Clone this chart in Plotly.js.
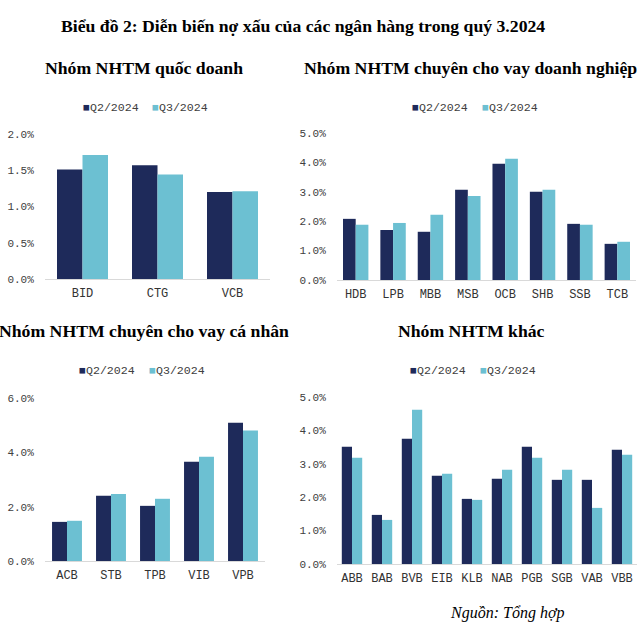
<!DOCTYPE html>
<html>
<head>
<meta charset="utf-8">
<script src="https://cdn.plot.ly/plotly-3.0.1.min.js"></script>
<style>html,body{margin:0;padding:0;background:#fff;}#chart{width:639px;height:630px;}</style>
</head>
<body>
<div id="chart"></div>
<script>
// ---- Data ----
const seriesNames = ['Q2/2024', 'Q3/2024'];

const stateBanks = ['BID', 'CTG', 'VCB'];
const stateQ2 = [1.51, 1.57, 1.20];
const stateQ3 = [1.71, 1.44, 1.21];

const corpBanks = ['HDB', 'LPB', 'MBB', 'MSB', 'OCB', 'SHB', 'SSB', 'TCB'];
const corpQ2 = [2.08, 1.70, 1.64, 3.07, 3.95, 3.00, 1.91, 1.23];
const corpQ3 = [1.88, 1.94, 2.22, 2.86, 4.12, 3.07, 1.88, 1.30];

const retailBanks = ['ACB', 'STB', 'TPB', 'VIB', 'VPB'];
const retailQ2 = [1.44, 2.40, 2.03, 3.65, 5.09];
const retailQ3 = [1.48, 2.47, 2.29, 3.84, 4.80];

const otherBanks = ['ABB', 'BAB', 'BVB', 'EIB', 'KLB', 'NAB', 'PGB', 'SGB', 'VAB', 'VBB'];
const otherQ2 = [3.51, 1.47, 3.75, 2.64, 1.95, 2.55, 3.51, 2.52, 2.52, 3.42];
const otherQ3 = [3.18, 1.32, 4.62, 2.70, 1.92, 2.82, 3.18, 2.82, 1.68, 3.27];

const mainTitle = 'Biểu đồ 2: Diễn biến nợ xấu của các ngân hàng trong quý 3.2024';
const panelTitles = ['Nhóm NHTM quốc doanh', 'Nhóm NHTM chuyên cho vay doanh nghiệp',
                     'Nhóm NHTM chuyên cho vay cá nhân', 'Nhóm NHTM khác'];
const sourceText = 'Nguồn: Tổng hợp';

// ---- Styles ----
const W = 639, H = 630;
const colors = ['#1e2a5a', '#6cc0d2'];
const mono = 'Liberation Mono, Courier New, monospace';
const serif = 'Liberation Serif, Times New Roman, serif';
const px = v => v / W;
const py = v => 1 - v / H;

const panels = [
  {cats: stateBanks, q2: stateQ2, q3: stateQ3, x: [45, 270], y: [279, 134], range: [0, 2], dtick: 0.5, xa: 'x', ya: 'y'},
  {cats: corpBanks, q2: corpQ2, q3: corpQ3, x: [337, 636], y: [280, 133], range: [0, 5], dtick: 1, xa: 'x2', ya: 'y2'},
  {cats: retailBanks, q2: retailQ2, q3: retailQ3, x: [45, 265], y: [561, 398], range: [0, 6], dtick: 2, xa: 'x3', ya: 'y3'},
  {cats: otherBanks, q2: otherQ2, q3: otherQ3, x: [337, 637], y: [564, 397], range: [0, 5], dtick: 1, xa: 'x4', ya: 'y4'}
];

const traces = [];
const layout = {
  width: W, height: H,
  margin: {l: 0, r: 0, t: 0, b: 0},
  paper_bgcolor: '#fff', plot_bgcolor: '#fff',
  showlegend: false,
  barmode: 'group', bargap: 0.32, bargroupgap: 0,
  font: {family: mono, size: 11, color: '#404040'},
  annotations: []
};

panels.forEach((p, i) => {
  [p.q2, p.q3].forEach((vals, k) => {
    traces.push({
      type: 'bar', name: seriesNames[k], x: p.cats, y: vals,
      xaxis: p.xa, yaxis: p.ya,
      marker: {color: colors[k], line: {width: 0}},
      hoverinfo: 'x+y+name'
    });
  });
  const sfx = i === 0 ? '' : String(i + 1);
  layout['xaxis' + sfx] = {
    domain: [px(p.x[0]), px(p.x[1])], anchor: 'y' + sfx,
    showline: true, linecolor: '#d9d9d9', linewidth: 1,
    showgrid: false, zeroline: false,
    ticks: 'outside', ticklen: 3, tickcolor: 'rgba(0,0,0,0)',
    tickfont: {family: mono, size: 12, color: '#333'},
    fixedrange: true
  };
  layout['yaxis' + sfx] = {
    domain: [py(p.y[0]), py(p.y[1])], anchor: 'x' + sfx,
    range: p.range, dtick: p.dtick, tick0: 0,
    tickformat: '.1f', ticksuffix: '%',
    showline: false, showgrid: false, zeroline: false,
    ticks: 'outside', ticklen: 8, tickcolor: 'rgba(0,0,0,0)',
    tickfont: {family: mono, size: 11, color: '#404040'},
    fixedrange: true
  };
});

// Titles
layout.annotations.push({
  text: '<b>' + mainTitle + '</b>', xref: 'paper', yref: 'paper',
  x: px(303), y: py(26), xanchor: 'center', yanchor: 'middle', showarrow: false,
  font: {family: serif, size: 17.7, color: '#000'}
});
const titlePos = [[144, 68], [470, 68], [144, 331], [471, 331]];
panelTitles.forEach((t, i) => {
  layout.annotations.push({
    text: '<b>' + t + '</b>', xref: 'paper', yref: 'paper',
    x: px(titlePos[i][0]), y: py(titlePos[i][1]), xanchor: 'center', yanchor: 'middle', showarrow: false,
    font: {family: serif, size: 17.7, color: '#000'}
  });
});

// Legends (Excel-style compact legend entries)
const legendPos = [[[81, 107], [150, 107]], [[410, 107], [480, 107]],
                   [[77, 370], [147, 370]], [[408, 370], [478, 370]]];
legendPos.forEach(pair => {
  pair.forEach((pos, k) => {
    layout.annotations.push({
      text: '<span style="color:' + colors[k] + '">■</span>' + seriesNames[k],
      xref: 'paper', yref: 'paper', x: px(pos[0]), y: py(pos[1]),
      xanchor: 'left', yanchor: 'middle', showarrow: false,
      font: {family: mono, size: 11.6, color: '#404040'}
    });
  });
});

// Source
layout.annotations.push({
  text: '<i>' + sourceText + '</i>', xref: 'paper', yref: 'paper',
  x: px(448), y: py(613), xanchor: 'left', yanchor: 'middle', showarrow: false,
  font: {family: serif, size: 16, color: '#000'}
});

Plotly.newPlot('chart', traces, layout, {staticPlot: true, displayModeBar: false});
</script>
</body>
</html>
